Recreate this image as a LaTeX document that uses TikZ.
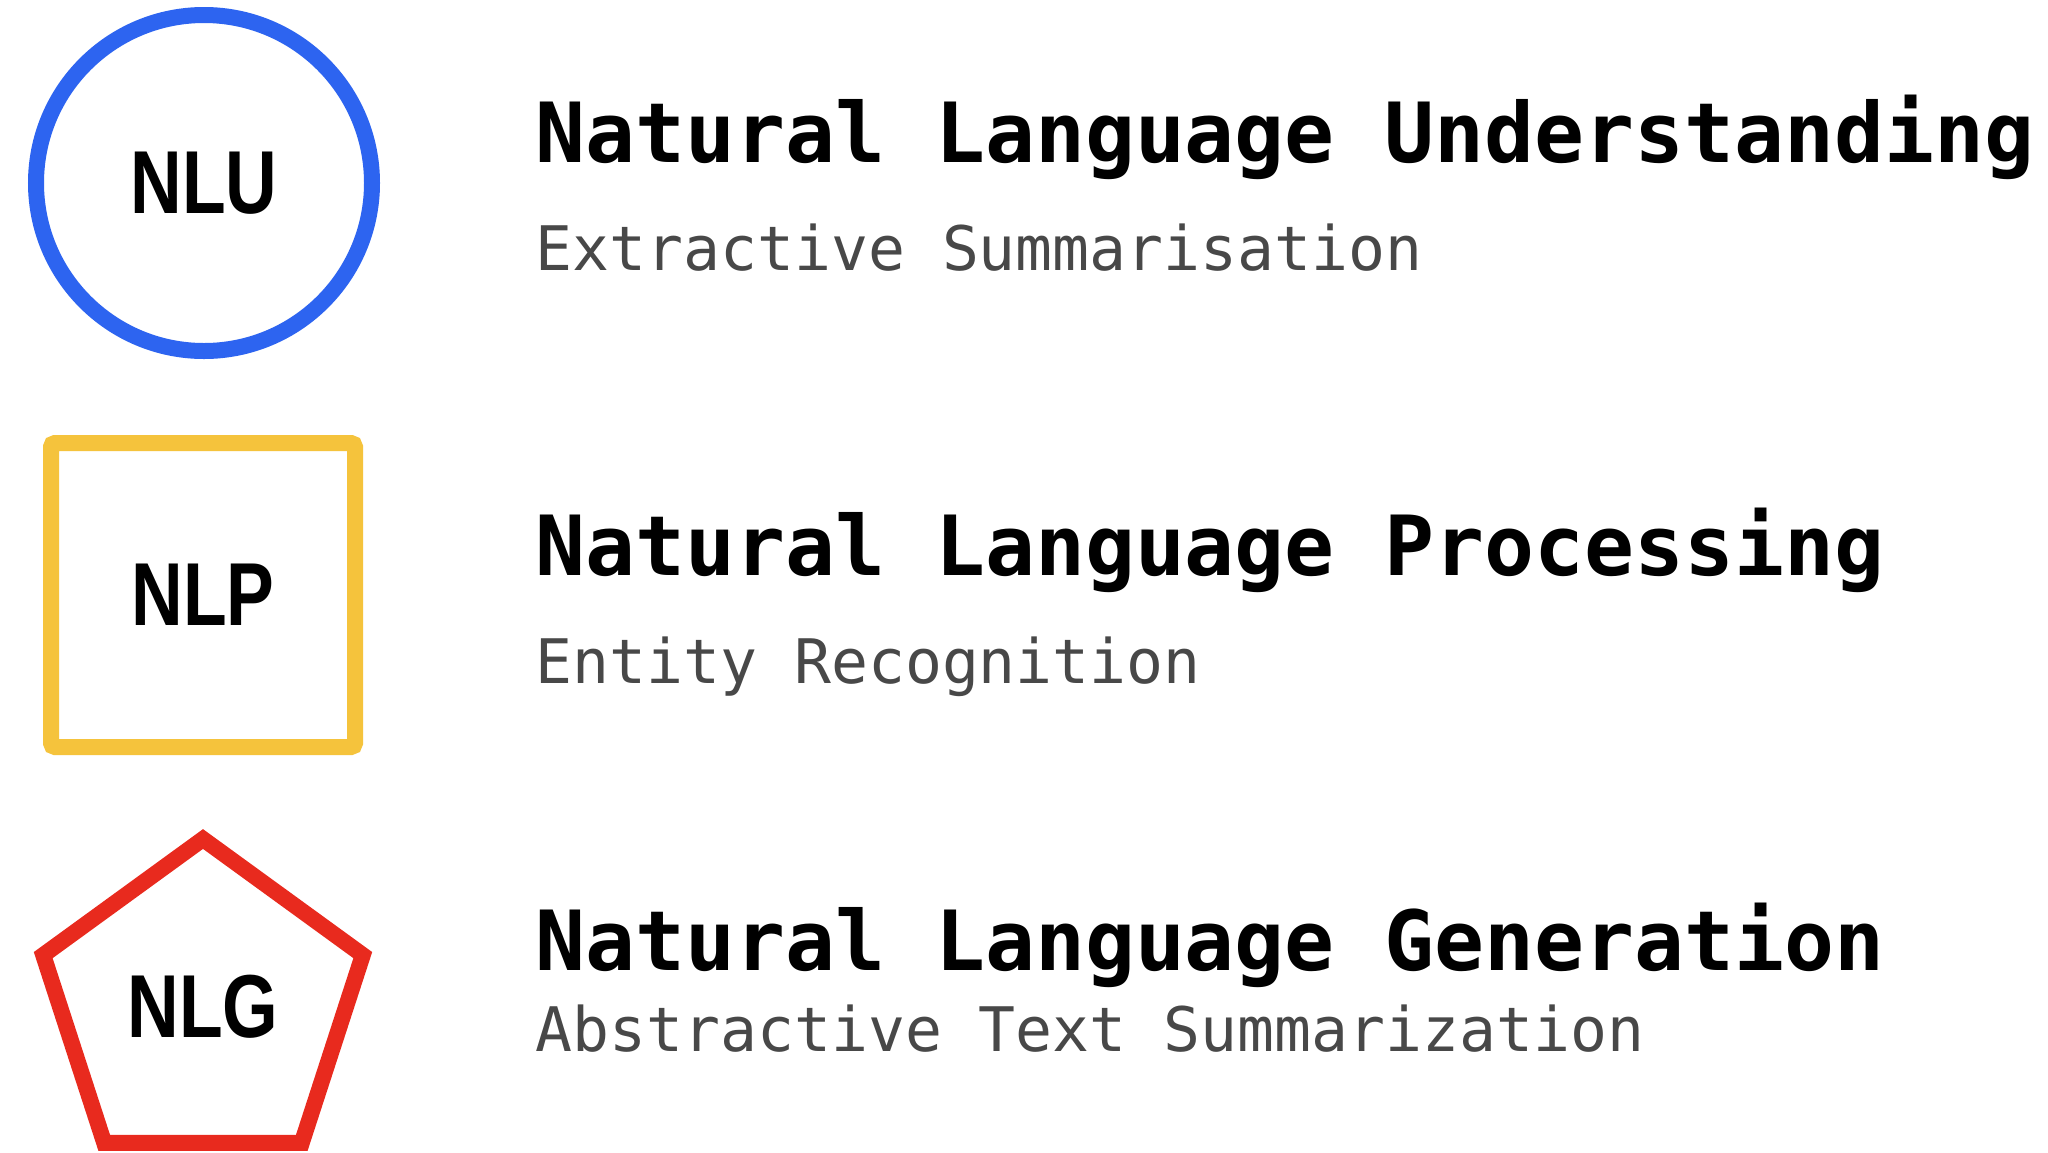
\documentclass[tikz,border=0pt]{standalone}
\usepackage{fontspec}
\usepackage{tikz}
\usetikzlibrary{shapes.geometric}
\tikzset{>=latex}

\newfontfamily\boxfont[FakeStretch=0.8]{Liberation Sans}
\newfontfamily\codefont{DejaVu Sans Mono}

\definecolor{nluBlue}{RGB}{45,100,240}
\definecolor{nlpYellow}{RGB}{245,195,60}
\definecolor{nlgRed}{RGB}{232,42,30}
\definecolor{subGray}{RGB}{72,72,72}

\tikzset{
    shapebox/.style={line width=8pt, font=\boxfont\bfseries\fontsize{44.7pt}{50pt}\selectfont, inner sep=0pt},
    title/.style={anchor=base west, inner sep=0pt, text=black, font=\codefont\bfseries\fontsize{41.5pt}{48pt}\selectfont},
    subtitle/.style={anchor=base west, inner sep=0pt, text=subGray, font=\codefont\fontsize{30.7pt}{36pt}\selectfont}
}

\begin{document}
\begin{tikzpicture}[x=0.5pt, y=-0.5pt]
    % Fix the page to the size of the reference.
    \useasboundingbox[fill=white] (0,0) rectangle (2048,1152);
    % The three shapes on the left.
    \node (nlu) [shapebox, circle, draw=nluBlue, minimum size=168pt] at (204,183) {NLU};
    \node (nlp) [shapebox, rectangle, rounded corners=2pt, draw=nlpYellow, minimum size=152pt] at (203,595) {NLP};
    \node (nlg) [shapebox, regular polygon, regular polygon sides=5, draw=nlgRed, minimum size=168pt] at (203,1007) {NLG};
    % The titles and their examples.
    \node (nluTitle) [title] at (535,162) {Natural Language Understanding};
    \node (nluSub) [subtitle] at (535,270) {Extractive Summarisation};

    \node (nlpTitle) [title] at (535,575) {Natural Language Processing};
    \node (nlpSub) [subtitle] at (535,683) {Entity Recognition};

    \node (nlgTitle) [title] at (535,970) {Natural Language Generation};
    \node (nlgSub) [subtitle] at (535,1051) {Abstractive Text Summarization};
\end{tikzpicture}
\end{document}
